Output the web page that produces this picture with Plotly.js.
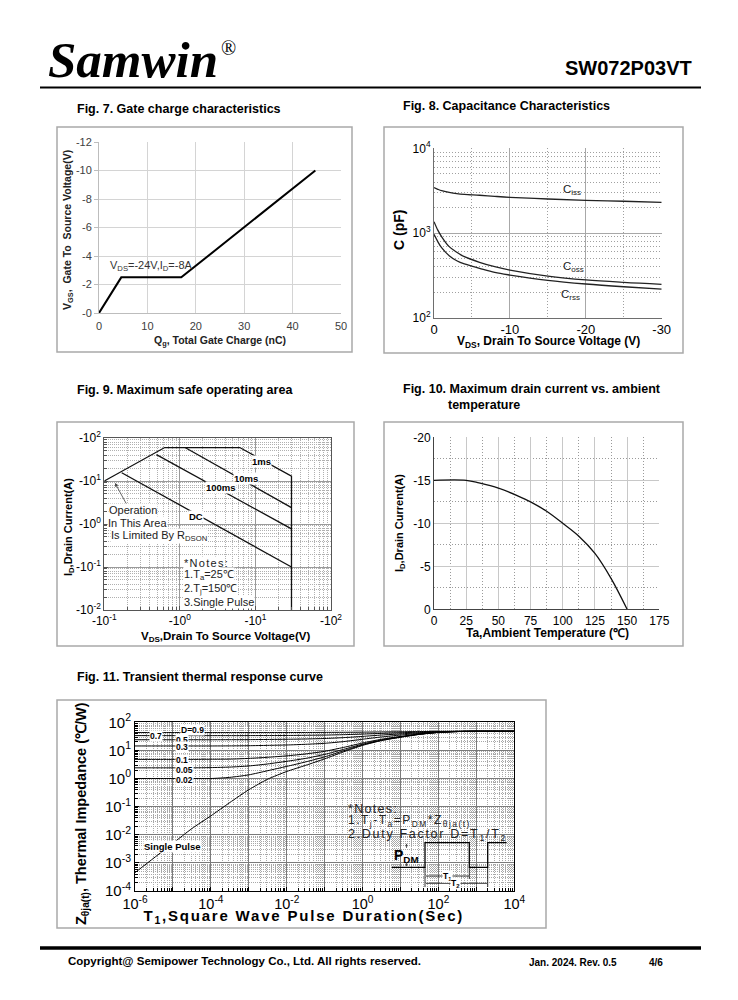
<!DOCTYPE html>
<html><head><meta charset="utf-8">
<script src="https://cdn.plot.ly/plotly-3.0.1.min.js"></script>
<style>html,body{margin:0;padding:0;background:#fff}#g{width:738px;height:1000px}</style>
</head><body><div id="g"></div>
<script>
// ---------- Fig 7: gate charge ----------
const qg  = [0, 4.6, 17, 44.7];
const vgs = [0, -2.5, -2.5, -10];
// ---------- Fig 8: capacitance ----------
const vdsCap = [0, -0.5, -1, -2, -3, -4, -6, -8, -10, -15, -20, -25, -30];
const ciss = [3430, 3280, 3160, 3020, 2920, 2860, 2790, 2710, 2640, 2520, 2430, 2370, 2300];
const coss = [1360, 1080, 906, 690, 592, 525, 451, 400, 365, 310, 279, 261, 248];
const crss = [964, 791, 671, 540, 471, 431, 383, 343, 319, 276, 250, 232, 218];
// ---------- Fig 9: SOA (magnitudes) ----------
const soaLimV = [0.1, 0.63, 6.2, 30, 30];
const soaLimI = [10, 60, 60, 13, 0.01];
const soa10msV = [1.17, 30];
const soa10msI = [60, 2.4];
const soa100msV = [0.49, 30];
const soa100msI = [41, 0.77];
const soaDCV = [0.17, 30];
const soaDCI = [15.6, 0.1];
// ---------- Fig 10: Id vs Ta ----------
const ta = [0, 25, 35, 50, 65, 75, 87.5, 100, 112.5, 125, 137.5, 150];
const idTa = [-15, -15, -14.7, -14.1, -13.2, -12.5, -11.4, -10, -8.5, -6.5, -3.6, 0];
// ---------- Fig 11: transient thermal ----------
const tSec = [1e-6,3.16e-6,1e-5,3.16e-5,1e-4,3.16e-4,1e-3,3.16e-3,1e-2,3.16e-2,0.1,0.316,1,3.16,10,31.6,100,316,1000,10000];
const zSingle = [4.5e-4,1.5e-3,5e-3,1.66e-2,4.7e-2,0.14,0.4,0.95,1.78,2.95,5.0,8.9,15.1,22.4,29.5,37.2,43.7,46.8,47.9,47.9];
const zD002 = [1.0,1.0,1.0,1.0,1.0,1.1,1.35,1.9,2.7,3.9,5.9,9.7,15.8,22.9,29.9,37.4,43.8,46.8,47.9,47.9];
const zD005 = [2.4,2.4,2.4,2.4,2.45,2.55,2.8,3.3,4.1,5.2,7.2,10.9,16.7,23.7,30.4,37.7,43.9,46.9,47.9,47.9];
const zD01  = [4.8,4.8,4.8,4.8,4.85,4.9,5.2,5.7,6.4,7.5,9.3,12.8,18.4,25.0,31.4,38.3,44.1,47.0,47.9,47.9];
const zD03  = [14.4,14.4,14.4,14.4,14.4,14.5,14.7,15.1,15.6,16.5,17.9,20.6,25.0,30.1,35.1,40.4,45.0,47.2,47.9,47.9];
const zD05  = [24,24,24,24,24,24.1,24.2,24.5,24.9,25.5,26.5,28.5,31.5,35.2,38.7,42.6,45.8,47.4,47.9,47.9];
const zD07  = [33.6,33.6,33.6,33.6,33.6,33.6,33.7,33.8,34.0,34.5,35.1,36.3,38.1,40.3,42.5,44.8,46.7,47.6,47.9,47.9];
const zD09  = [43.2,43.2,43.2,43.2,43.2,43.2,43.2,43.2,43.3,43.4,43.7,44.1,44.7,45.4,46.2,46.9,47.6,47.9,47.9,47.9];

// tick labels
const f7xTicks = [0,10,20,30,40,50];
const f7yTicks = [0,-2,-4,-6,-8,-10,-12];
const f7yText  = ['-0','-2','-4','-6','-8','-10','-12'];
const f8xTicks = [0,-10,-20,-30];
const f8xText  = ['0','-10','-20','-30'];
const f8yTicks = [100,1000,10000];
const f8yText  = ['10<sup>2</sup>','10<sup>3</sup>','10<sup>4</sup>'];
const f9xTicks = [0.1,1,10,100];
const f9xText  = ['-10<sup>-1</sup>','-10<sup>0</sup>','-10<sup>1</sup>','-10<sup>2</sup>'];
const f9yTicks = [0.01,0.1,1,10,100];
const f9yText  = ['-10<sup>-2</sup>','-10<sup>-1</sup>','-10<sup>0</sup>','-10<sup>1</sup>','-10<sup>2</sup>'];
const f10xTicks = [0,25,50,75,100,125,150,175];
const f10yTicks = [0,-5,-10,-15,-20];
const f10yText  = ['0','-5','-10','-15','-20'];
const f11xTicks = [1e-6,1e-5,1e-4,1e-3,1e-2,1e-1,1,10,100,1000,10000];
const f11xText  = ['10<sup>-6</sup>','','10<sup>-4</sup>','','10<sup>-2</sup>','','10<sup>0</sup>','','10<sup>2</sup>','','10<sup>4</sup>'];
const f11yTicks = [1e-4,1e-3,1e-2,1e-1,1,10,100];
const f11yText  = ['10<sup>-4</sup>','10<sup>-3</sup>','10<sup>-2</sup>','10<sup>-1</sup>','10<sup>0</sup>','10<sup>1</sup>','10<sup>2</sup>'];

const W = 738, H = 1000;
const X = p => p / W;
const Y = p => 1 - p / H;
function logMinor(a, b) { const v = []; for (let e = a; e < b; e++) for (let k = 2; k <= 9; k++) v.push(k * Math.pow(10, e)); return v; }
function linMinor(a, b, s) { const v = []; for (let t = a; t <= b + 1e-9; t += s) v.push(t); return v; }
const FONT = 'Arial, "Liberation Sans", sans-serif';

const traces = [
  {x: qg, y: vgs, xaxis:'x', yaxis:'y', mode:'lines', line:{color:'#000', width:2}},
  {x: vdsCap, y: ciss, xaxis:'x2', yaxis:'y2', mode:'lines', line:{color:'#222', width:1.3, shape:'spline'}},
  {x: vdsCap, y: coss, xaxis:'x2', yaxis:'y2', mode:'lines', line:{color:'#222', width:1.3, shape:'spline'}},
  {x: vdsCap, y: crss, xaxis:'x2', yaxis:'y2', mode:'lines', line:{color:'#222', width:1.3, shape:'spline'}},
  {x: soaLimV, y: soaLimI, xaxis:'x3', yaxis:'y3', mode:'lines', line:{color:'#111', width:1.3}},
  {x: soa10msV, y: soa10msI, xaxis:'x3', yaxis:'y3', mode:'lines', line:{color:'#111', width:1.3}},
  {x: soa100msV, y: soa100msI, xaxis:'x3', yaxis:'y3', mode:'lines', line:{color:'#111', width:1.3}},
  {x: soaDCV, y: soaDCI, xaxis:'x3', yaxis:'y3', mode:'lines', line:{color:'#111', width:1.3}},
  {x: ta, y: idTa, xaxis:'x4', yaxis:'y4', mode:'lines', line:{color:'#111', width:1.3, shape:'spline'}},
];
[zSingle, zD002, zD005, zD01, zD03, zD05, zD07, zD09].forEach(z => traces.push(
  {x: tSec, y: z, xaxis:'x5', yaxis:'y5', mode:'lines', line:{color:'#000', width:1, shape:'spline', smoothing:0.6}}));

const tf = (s, c) => ({family: FONT, size: s, color: c || '#000'});

const layout = {
  width: W, height: H, margin:{l:0,r:0,t:0,b:0}, showlegend:false,
  paper_bgcolor:'#fff', plot_bgcolor:'#fff', font:{family: FONT, color:'#000'},
  // Fig 7
  xaxis:{domain:[X(99),X(341)], anchor:'y', range:[0,50], tickmode:'array', tickvals:f7xTicks,
    showgrid:true, gridcolor:'#d4d4d4', zeroline:false, showline:true, linecolor:'#bdbdbd', ticks:'outside', ticklen:3, tickcolor:'rgba(0,0,0,0)', tickfont:tf(11,'#404040')},
  yaxis:{domain:[Y(313),Y(142)], anchor:'x', range:[0,-12], tickmode:'array', tickvals:f7yTicks, ticktext:f7yText,
    showgrid:true, gridcolor:'#d4d4d4', zeroline:false, showline:true, linecolor:'#bdbdbd', ticks:'outside', ticklen:4, tickcolor:'#bdbdbd', tickfont:tf(11,'#404040')},
  // Fig 8
  xaxis2:{domain:[X(434),X(661.7)], anchor:'y2', range:[0,-30], tickmode:'array', tickvals:f8xTicks, ticktext:f8xText,
    showgrid:true, gridcolor:'#a8a8a8', zeroline:false, showline:true, linecolor:'#6e6e6e', ticks:'', tickfont:tf(13),
    minor:{tickvals:[-5,-15,-25], showgrid:true, gridcolor:'#a0a0a0', griddash:'1px,2px'}},
  yaxis2:{domain:[Y(317.7),Y(148.3)], anchor:'x2', type:'log', range:[2,4], tickmode:'array', tickvals:f8yTicks, ticktext:f8yText,
    showgrid:true, gridcolor:'#a8a8a8', zeroline:false, showline:true, linecolor:'#6e6e6e', ticks:'', tickfont:tf(12),
    minor:{tickvals:logMinor(2,4), showgrid:true, gridcolor:'#a0a0a0', griddash:'1px,2px'}},
  // Fig 9
  xaxis3:{domain:[X(104.3),X(331)], anchor:'y3', type:'log', range:[-1,2], tickmode:'array', tickvals:f9xTicks, ticktext:f9xText,
    showgrid:true, gridcolor:'#9a9a9a', zeroline:false, showline:true, mirror:true, linecolor:'#555', ticks:'inside', ticklen:4, tickcolor:'#555', tickfont:tf(12),
    minor:{tickvals:logMinor(-1,2), showgrid:true, gridcolor:'#b0b0b0', griddash:'1px,1px', ticks:'inside', ticklen:3, tickcolor:'#555'}},
  yaxis3:{domain:[Y(610),Y(438)], anchor:'x3', type:'log', range:[-2,2], tickmode:'array', tickvals:f9yTicks, ticktext:f9yText,
    showgrid:true, gridcolor:'#9a9a9a', zeroline:false, showline:true, mirror:true, linecolor:'#555', ticks:'inside', ticklen:4, tickcolor:'#555', tickfont:tf(12),
    minor:{tickvals:logMinor(-2,2), showgrid:true, gridcolor:'#b0b0b0', griddash:'1px,1px', ticks:'inside', ticklen:3, tickcolor:'#555'}},
  // Fig 10
  xaxis4:{domain:[X(434),X(659.3)], anchor:'y4', range:[0,175], tickmode:'array', tickvals:f10xTicks,
    showgrid:true, gridcolor:'#c8c8c8', zeroline:false, showline:true, linecolor:'#444', ticks:'', tickfont:tf(12),
    minor:{tickvals:linMinor(12.5,162.5,25), showgrid:true, gridcolor:'#9a9a9a', griddash:'1px,2px'}},
  yaxis4:{domain:[Y(609.3),Y(437.3)], anchor:'x4', range:[0,-20], tickmode:'array', tickvals:f10yTicks, ticktext:f10yText,
    showgrid:true, gridcolor:'#c8c8c8', zeroline:false, showline:true, linecolor:'#444', ticks:'', tickfont:tf(12),
    minor:{tickvals:[-2.5,-7.5,-12.5,-17.5], showgrid:true, gridcolor:'#9a9a9a', griddash:'1px,2px'}},
  // Fig 11
  xaxis5:{domain:[X(135),X(514.3)], anchor:'y5', type:'log', range:[-6,4], tickmode:'array', tickvals:f11xTicks, ticktext:f11xText,
    showgrid:true, gridcolor:'#7a7a7a', zeroline:false, showline:true, mirror:true, linecolor:'#000', ticks:'inside', ticklen:4, tickcolor:'#000', tickfont:tf(14.5),
    minor:{tickvals:logMinor(-6,4), showgrid:true, gridcolor:'#a8a8a8', griddash:'1px,1px', ticks:'inside', ticklen:3, tickcolor:'#000'}},
  yaxis5:{domain:[Y(891),Y(722.3)], anchor:'x5', type:'log', range:[-4,2], tickmode:'array', tickvals:f11yTicks, ticktext:f11yText,
    showgrid:true, gridcolor:'#7a7a7a', zeroline:false, showline:true, mirror:true, linecolor:'#000', ticks:'inside', ticklen:4, tickcolor:'#000', tickfont:tf(15),
    minor:{tickvals:logMinor(-4,2), showgrid:true, gridcolor:'#a8a8a8', griddash:'1px,1px', ticks:'inside', ticklen:3, tickcolor:'#000'}},
  annotations: [], shapes: []
};

function A(text, x, y, o) {
  o = o || {};
  layout.annotations.push(Object.assign({text, x:X(x), y:Y(y), xref:'paper', yref:'paper', showarrow:false,
    xanchor:'left', yanchor:'middle', font:tf(o.size || 12, o.color)}, o.extra || {}));
}
function rect(x0,y0,x1,y1,c,w){ layout.shapes.push({type:'rect', xref:'paper', yref:'paper', x0:X(x0), x1:X(x1), y0:Y(y0), y1:Y(y1), line:{color:c, width:w}, layer:'below'}); }
function line(x0,y0,x1,y1,c,w){ layout.shapes.push({type:'line', xref:'paper', yref:'paper', x0:X(x0), x1:X(x1), y0:Y(y0), y1:Y(y1), line:{color:c, width:w}}); }

// header / footer
A('<b><i>Samwin</i></b>', 46, 60, {extra:{font:{family:'"Liberation Serif", "Times New Roman", serif', size:51, color:'#000'}}});
A('®', 219, 48, {extra:{font:{family:'"Liberation Serif", serif', size:20, color:'#000'}}});
A('<b>SW072P03VT</b>', 694, 68, {size:20, extra:{xanchor:'right'}});
line(40, 87.5, 701, 87.5, '#000', 2);
line(40, 948, 701, 948, '#000', 3.5);
A('<b>Copyright@ Semipower Technology Co., Ltd. All rights reserved.</b>', 66, 961, {size:11.5});
A('<b>Jan. 2024. Rev. 0.5</b>', 527, 962, {size:10});
A('<b>4/6</b>', 647, 962, {size:10});

// frames
rect(57,127,352,352,'#a9a9a9',1.5);
rect(384,127,683,353,'#a9a9a9',1.5);
rect(57,422,354,646,'#a9a9a9',1.5);
rect(384,422,683,646,'#a9a9a9',1.5);
rect(57,700,546,928,'#a9a9a9',1.5);

// figure titles
A('<b>Fig. 7. Gate charge characteristics</b>', 75, 109, {size:12.5});
A('<b>Fig. 8. Capacitance Characteristics</b>', 401, 106, {size:12.5});
A('<b>Fig. 9. Maximum safe operating area</b>', 75, 390, {size:12.5});
A('<b>Fig. 10. Maximum drain current vs. ambient</b>', 401, 389, {size:12.5});
A('<b>temperature</b>', 446, 405, {size:12.5});
A('<b>Fig. 11. Transient thermal response curve</b>', 75, 677, {size:12.5});

// Fig 7 texts
A('<b>V<sub>GS</sub>,  Gate To  Source Voltage(V)</b>', 68, 230, {size:10.5, color:'#222', extra:{xanchor:'center', textangle:-90}});
A('<b>Q<sub>g</sub>, Total Gate Charge (nC)</b>', 220, 341, {size:10.5, color:'#222', extra:{xanchor:'center'}});
A('V<sub>DS</sub>=-24V,I<sub>D</sub>=-8A', 108, 266, {size:11, color:'#333'});

// Fig 8 texts
A('<b>C (pF)</b>', 399, 230, {size:14, extra:{xanchor:'center', textangle:-90}});
A('<b>V<sub>DS</sub>, Drain To Source Voltage (V)</b>', 548, 342, {size:12, extra:{xanchor:'center'}});
A('C<sub>iss</sub>', 561, 190, {size:11.5, color:'#222'});
A('C<sub>oss</sub>', 561, 267, {size:11.5, color:'#222'});
A('C<sub>rss</sub>', 559, 295, {size:11.5, color:'#222'});

// Fig 9 texts
A('<b>I<sub>D</sub>,Drain Current(A)</b>', 69, 527, {size:11, extra:{xanchor:'center', textangle:-90}});
A('<b>V<sub>DS</sub>,Drain To Source Voltage(V)</b>', 225, 637, {size:11.5, extra:{xanchor:'center'}});
A('<b>1ms</b>', 261, 461, {size:9.5, extra:{xanchor:'center', bgcolor:'#fff', borderpad:0}});
A('<b>10ms</b>', 246, 478.5, {size:9.5, extra:{xanchor:'center', bgcolor:'#fff', borderpad:0}});
A('<b>100ms</b>', 221, 487.5, {size:9.5, extra:{xanchor:'center', bgcolor:'#fff', borderpad:0}});
A('<b>DC</b>', 196, 516, {size:9.5, extra:{xanchor:'center', bgcolor:'#fff', borderpad:0}});
A('Operation', 108, 510.5, {size:11, color:'#222', extra:{bgcolor:'#fff', borderpad:0}});
A('In This Area', 107, 523, {size:11, color:'#222', extra:{bgcolor:'#fff', borderpad:0}});
A('Is Limited By R<sub>DSON</sub>', 110, 535.5, {size:11, color:'#222', extra:{bgcolor:'#fff', borderpad:0}});
layout.annotations.push({text:'', xref:'paper', yref:'paper', x:X(115), y:Y(483), ax:12, ay:22, axref:'pixel', ayref:'pixel',
  showarrow:true, arrowhead:2, arrowsize:0.9, arrowwidth:0.8, arrowcolor:'#444'});
A('*Notes:', 183, 562.5, {size:11, color:'#222', extra:{bgcolor:'#fff', borderpad:0}});
A('1.T<sub>a</sub>=25℃', 183, 575, {size:11, color:'#222', extra:{bgcolor:'#fff', borderpad:0}});
A('2.T<sub>j</sub>=150℃', 183, 589, {size:11, color:'#222', extra:{bgcolor:'#fff', borderpad:0}});
A('3.Single Pulse', 183, 602, {size:11, color:'#222', extra:{bgcolor:'#fff', borderpad:0}});

// Fig 10 texts
A('<b>I<sub>D</sub>,Drain Current(A)</b>', 400, 523, {size:11, extra:{xanchor:'center', textangle:-90}});
A('<b>Ta,Ambient Temperature (℃)</b>', 547, 632.5, {size:12, extra:{xanchor:'center'}});

// Fig 11 texts
A('<b>Z<sub>θja(t)</sub>, Thermal Impedance (℃/W)</b>', 82, 814, {size:14.5, extra:{xanchor:'center', textangle:-90}});
A('<b>T<sub>1</sub>,Square Wave Pulse Duration(Sec)</b>', 304, 916, {size:15, extra:{xanchor:'center'}});
const lab = {size:8.5, extra:{xanchor:'left', bgcolor:'#fff', borderpad:0}};
A('<b>D=0.9</b>', 180, 729.5, lab);
A('<b>0.7</b>', 149, 735.5, lab);
A('<b>0.5</b>', 175, 739.5, lab);
A('<b>0.3</b>', 175, 746.5, lab);
A('<b>0.1</b>', 175, 759.5, lab);
A('<b>0.05</b>', 175, 770, lab);
A('<b>0.02</b>', 175, 780, lab);
A('<b>Single Pulse</b>', 143, 846.5, {size:9.5, extra:{xanchor:'left', bgcolor:'#fff', borderpad:0}});
A('*Notes:', 346, 808.5, {size:12.5, color:'#222'});
A('1.T<sub>j</sub>-T<sub>a</sub>=P<sub>DM</sub>*Z<sub>θja(t)</sub>', 346, 821, {size:12, color:'#222'});
A('2.Duty Factor D=T<sub>1</sub>/T<sub>2</sub>', 346, 834.5, {size:12.5, color:'#222'});
A('<b>P<sub>DM</sub></b>', 392, 856, {size:14});
// pulse diagram
layout.shapes.push({type:'path', xref:'paper', yref:'paper',
  path:`M${X(391.7)},${Y(867.3)} L${X(425)},${Y(867.3)} L${X(425)},${Y(842.7)} L${X(469.3)},${Y(842.7)} L${X(469.3)},${Y(867.3)} L${X(487.7)},${Y(867.3)} L${X(487.7)},${Y(842.7)} L${X(506.7)},${Y(842.7)}`,
  line:{color:'#000', width:1.3}});
line(425, 867.3, 425, 887, '#000', 0.8);
line(487.7, 867.3, 487.7, 887, '#000', 0.8);
line(469.3, 867.3, 469.3, 879, '#000', 0.8);
line(426, 876, 469, 876, '#000', 0.8);
line(426, 883.3, 487, 883.3, '#000', 0.8);
A('<b>T<sub>1</sub></b>', 447, 876, {size:8.5, extra:{xanchor:'center', bgcolor:'#fff', borderpad:0}});
A('<b>T<sub>2</sub></b>', 455, 883.3, {size:8.5, extra:{xanchor:'center', bgcolor:'#fff', borderpad:0}});
layout.annotations.push({text:'', xref:'paper', yref:'paper', x:X(406.5), y:Y(843.5), ax:0, ay:6, showarrow:true, arrowhead:2, arrowsize:0.7, arrowwidth:0.8});
layout.annotations.push({text:'', xref:'paper', yref:'paper', x:X(406.5), y:Y(866.5), ax:0, ay:-6, showarrow:true, arrowhead:2, arrowsize:0.7, arrowwidth:0.8});

Plotly.newPlot('g', traces, layout, {staticPlot:true, displayModeBar:false}).then(() => {
  // widen letter spacing of the Fig. 11 texts like the reference
  const spaced = [['T1,Square', 1.8, 'c'], ['*Notes:', 1.3, 'l'], ['1.Tj-Ta', 1.5, 'l'], ['2.Duty', 1.7, 'l']];
  document.querySelectorAll('.annotation text').forEach(el => {
    const t = (el.textContent || '').replace(/[\u200b\u200c\u200d\ufeff]/g, '');
    spaced.forEach(([key, sp, mode]) => {
      if (t.indexOf(key) === 0 && !el.dataset.sp) {
        el.dataset.sp = '1';
        const b0 = el.getBBox();
        el.setAttribute('letter-spacing', sp + 'px');
        const b1 = el.getBBox();
        let dx = b0.x - b1.x;
        if (mode === 'c') dx -= (b1.width - b0.width) / 2;
        const x0 = parseFloat(el.getAttribute('x') || '0');
        el.setAttribute('x', x0 + dx);
      }
    });
  });
});
</script>
</body></html>
